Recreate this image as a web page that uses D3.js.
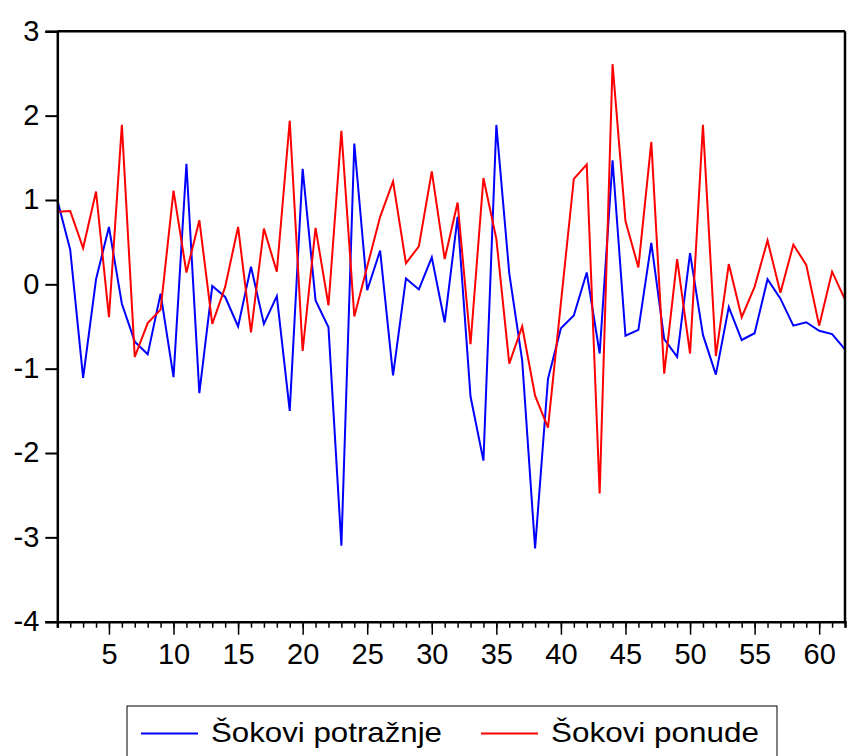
<!DOCTYPE html>
<html>
<head>
<meta charset="utf-8">
<script src="https://cdn.jsdelivr.net/npm/d3@7"></script>
<style>
  html, body { margin: 0; padding: 0; background: #fff; }
  svg { display: block; }
  text { font-family: "Liberation Sans", Arial, sans-serif; fill: #000; }
</style>
</head>
<body>
<svg id="chart" width="849" height="756"></svg>
<script>
const periods = d3.range(1, 63);
const seriesNames = ["Šokovi potražnje", "Šokovi ponude"];
const seriesColors = ["#0000ff", "#ff0000"];
const demandShocks = [
  1.00, 0.41, -1.11, 0.06, 0.68, -0.23, -0.68, -0.83, -0.11, -1.10,
  1.43, -1.29, -0.02, -0.15, -0.50, 0.21, -0.47, -0.14, -1.50, 1.37,
  -0.19, -0.51, -3.10, 1.67, -0.07, 0.40, -1.08, 0.07, -0.06, 0.32,
  -0.45, 0.80, -1.33, -2.09, 1.89, 0.13, -0.90, -3.13, -1.12, -0.52,
  -0.37, 0.14, -0.82, 1.47, -0.61, -0.54, 0.49, -0.65, -0.86, 0.37,
  -0.60, -1.07, -0.27, -0.66, -0.58, 0.06, -0.17, -0.49, -0.45, -0.55,
  -0.59, -0.77
];
const supplyShocks = [
  0.86, 0.87, 0.43, 1.10, -0.39, 1.89, -0.86, -0.46, -0.30, 1.11,
  0.14, 0.76, -0.47, -0.03, 0.68, -0.57, 0.66, 0.15, 1.94, -0.79,
  0.67, -0.25, 1.82, -0.38, 0.21, 0.80, 1.22, 0.25, 0.45, 1.34,
  0.30, 0.97, -0.71, 1.26, 0.54, -0.94, -0.50, -1.32, -1.70, -0.22,
  1.25, 1.42, -2.48, 2.61, 0.75, 0.20, 1.69, -1.06, 0.30, -0.82,
  1.89, -0.85, 0.24, -0.39, -0.03, 0.52, -0.10, 0.47, 0.23, -0.49,
  0.15, -0.18
];
const yTicks = [-4, -3, -2, -1, 0, 1, 2, 3];
const xMajorTicks = [5, 10, 15, 20, 25, 30, 35, 40, 45, 50, 55, 60];

const svg = d3.select("#chart");
const x = d3.scaleLinear().domain([1, 62]).range([57.3, 845]);
const y = d3.scaleLinear().domain([-4, 3]).range([621.7, 31.3]);

// series
const series = [demandShocks, supplyShocks];
const line = d3.line().x((d, i) => x(periods[i])).y(d => y(d));
series.forEach((vals, k) => {
  svg.append("path")
    .datum(vals)
    .attr("fill", "none")
    .attr("stroke", seriesColors[k])
    .attr("stroke-width", 2)
    .attr("stroke-linejoin", "miter")
    .attr("d", line);
});

// frame (top and right)
svg.append("line").attr("x1", x(1)).attr("x2", x(62)).attr("y1", y(3)).attr("y2", y(3))
  .attr("stroke", "#000").attr("stroke-width", 2.5);
svg.append("line").attr("x1", x(62)).attr("x2", x(62)).attr("y1", y(3)).attr("y2", y(-4))
  .attr("stroke", "#000").attr("stroke-width", 2.5);

// left axis
const yAxis = d3.axisLeft(y).tickValues(yTicks).tickSize(12).tickPadding(6).tickFormat(d3.format("d"));
const gy = svg.append("g").attr("transform", `translate(${x(1)},0)`).call(yAxis);
gy.select(".domain").attr("stroke", "#000").attr("stroke-width", 2.5);
gy.selectAll(".tick line").attr("stroke", "#000").attr("stroke-width", 2);
gy.selectAll(".tick text").attr("font-size", 29).attr("dy", "0.3em")
  .style("font-family", "'Liberation Sans', Arial, sans-serif").text(d => d < 0 ? "-" + Math.abs(d) : d);

// bottom axis: minor ticks
const xMinor = d3.axisBottom(x).tickValues(periods).tickSize(6).tickFormat("");
const gxm = svg.append("g").attr("transform", `translate(0,${y(-4)})`).call(xMinor);
gxm.select(".domain").attr("stroke", "#000").attr("stroke-width", 2.5);
gxm.selectAll(".tick line").attr("stroke", "#000").attr("stroke-width", 1.5);

// bottom axis: major ticks with labels
const xMajor = d3.axisBottom(x).tickValues(xMajorTicks).tickSize(13).tickPadding(9).tickFormat(d3.format("d"));
const gx = svg.append("g").attr("transform", `translate(0,${y(-4)})`).call(xMajor);
gx.select(".domain").remove();
gx.selectAll(".tick line").attr("stroke", "#000").attr("stroke-width", 1.5);
gx.selectAll(".tick text").attr("font-size", 29)
  .style("font-family", "'Liberation Sans', Arial, sans-serif");

// legend
const legend = svg.append("g");
legend.append("rect").attr("x", 127).attr("y", 706).attr("width", 650).attr("height", 60)
  .attr("fill", "#fff").attr("stroke", "#000").attr("stroke-width", 1);
const legendItems = [
  { lx: 141, tx: 211, w: 231 },
  { lx: 481, tx: 551, w: 208 }
];
legendItems.forEach((it, k) => {
  legend.append("line").attr("x1", it.lx).attr("x2", it.lx + 57).attr("y1", 733.5).attr("y2", 733.5)
    .attr("stroke", seriesColors[k]).attr("stroke-width", 2);
  legend.append("text").attr("x", it.tx).attr("y", 742).attr("font-size", 28)
    .attr("textLength", it.w).attr("lengthAdjust", "spacingAndGlyphs")
    .text(seriesNames[k]);
});
</script>
</body>
</html>
